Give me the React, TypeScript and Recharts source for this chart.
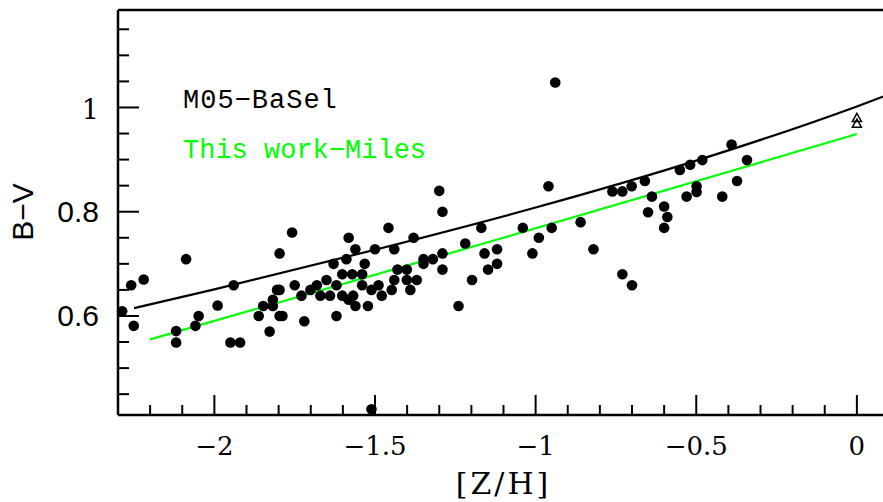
import React from "react"
import { ComposedChart, XAxis, YAxis, Scatter, Line } from "recharts"

// globular clusters: [Z/H], B-V
const clusterPoints: [number, number][] = [
  [-2.287, 0.609], [-2.259, 0.659], [-2.22, 0.67], [-2.251, 0.581], [-2.119, 0.571],
  [-2.119, 0.549], [-2.088, 0.709], [-2.059, 0.581], [-2.049, 0.6], [-1.99, 0.62],
  [-1.94, 0.659], [-1.95, 0.549], [-1.92, 0.549], [-1.862, 0.6], [-1.848, 0.619],
  [-1.828, 0.57], [-1.818, 0.631], [-1.818, 0.619], [-1.805, 0.65], [-1.797, 0.65],
  [-1.797, 0.72], [-1.797, 0.6], [-1.788, 0.6], [-1.758, 0.76], [-1.75, 0.659],
  [-1.729, 0.639], [-1.72, 0.59], [-1.701, 0.65], [-1.681, 0.659], [-1.67, 0.639],
  [-1.651, 0.669], [-1.64, 0.639], [-1.629, 0.7], [-1.62, 0.659], [-1.62, 0.6],
  [-1.602, 0.639], [-1.602, 0.68], [-1.589, 0.709], [-1.582, 0.75], [-1.582, 0.631],
  [-1.571, 0.68], [-1.568, 0.639], [-1.561, 0.728], [-1.561, 0.619], [-1.54, 0.68],
  [-1.54, 0.659], [-1.532, 0.7], [-1.522, 0.619], [-1.511, 0.65], [-1.5, 0.728],
  [-1.489, 0.659], [-1.479, 0.639], [-1.511, 0.421], [-1.458, 0.769], [-1.448, 0.65],
  [-1.44, 0.728], [-1.44, 0.669], [-1.43, 0.689], [-1.401, 0.689], [-1.401, 0.669],
  [-1.39, 0.65], [-1.38, 0.75], [-1.37, 0.669], [-1.349, 0.709], [-1.349, 0.7],
  [-1.32, 0.709], [-1.29, 0.8], [-1.29, 0.72], [-1.29, 0.689], [-1.3, 0.84],
  [-1.24, 0.619], [-1.219, 0.739], [-1.198, 0.669], [-1.169, 0.769], [-1.159, 0.72],
  [-1.148, 0.689], [-1.12, 0.728], [-1.12, 0.7], [-1.04, 0.769], [-1.01, 0.72],
  [-0.99, 0.75], [-0.95, 0.769], [-0.96, 0.849], [-0.939, 1.048], [-0.86, 0.78],
  [-0.82, 0.728], [-0.761, 0.839], [-0.73, 0.839], [-0.73, 0.68], [-0.701, 0.849],
  [-0.7, 0.659], [-0.66, 0.859], [-0.65, 0.799], [-0.638, 0.829], [-0.6, 0.81],
  [-0.59, 0.79], [-0.6, 0.769], [-0.551, 0.88], [-0.53, 0.829], [-0.519, 0.89],
  [-0.499, 0.849], [-0.499, 0.838], [-0.481, 0.899], [-0.419, 0.829], [-0.39, 0.929],
  [-0.373, 0.859], [-0.342, 0.899],
]

// open triangles at solar metallicity
const solarPoints: [number, number][] = [[0, 0.98], [0, 0.969]]

// model curves
const baselZH = [-2.25, -2.0, -1.5, -1.0, -0.5, 0, 0.1]
const baselBV = [0.615, 0.651, 0.727, 0.808, 0.898, 1.002, 1.025]
const milesZH = [-2.2, -1.1, 0]
const milesBV = [0.555, 0.75, 0.949]

const xTicks = [
  -2.3, -2.2, -2.1, -2.0, -1.9, -1.8, -1.7, -1.6, -1.5, -1.4, -1.3, -1.2,
  -1.1, -1.0, -0.9, -0.8, -0.7, -0.6, -0.5, -0.4, -0.3, -0.2, -0.1, 0,
]
const yTicks = [
  0.45, 0.5, 0.55, 0.6, 0.65, 0.7, 0.75, 0.8, 0.85, 0.9, 0.95, 1.0, 1.05, 1.1, 1.15,
]

const toXY = (pts: [number, number][]) => pts.map(([x, y]) => ({ x, y }))
const clusters = toXY(clusterPoints)
const solar = toXY(solarPoints)
const basel = baselZH.map((x, i) => ({ x, y: baselBV[i] }))
const miles = milesZH.map((x, i) => ({ x, y: milesBV[i] }))

const GREEN = "#00ff00"
const isMajor = (v: number, step: number) => Math.abs(v / step - Math.round(v / step)) < 1e-6
const fmtX = (v: number) => (Math.abs(v) < 1e-9 ? "0" : "\u2212" + String(Math.abs(v)))
const axisLine = { stroke: "#000", strokeWidth: 2.5 }

const BottomTick = (p: any) => {
  const v = p.payload.value
  const major = isMajor(v, 0.5)
  return (
    <g>
      <line x1={p.x} y1={p.y} x2={p.x} y2={p.y - (major ? 20 : 10)} stroke="#000" strokeWidth={2} />
      {major && (
        <text x={p.x} y={p.y + 40} textAnchor="middle" fontFamily="DejaVu Serif" fontSize={26} fill="#000">
          {fmtX(v)}
        </text>
      )}
    </g>
  )
}

const TopTick = (p: any) => {
  const major = isMajor(p.payload.value, 0.5)
  return <line x1={p.x} y1={p.y} x2={p.x} y2={p.y + (major ? 20 : 10)} stroke="#000" strokeWidth={2} />
}

const LeftTick = (p: any) => {
  const v = p.payload.value
  const major = isMajor(v, 0.2)
  const isOne = Math.abs(v - 1) < 1e-6
  return (
    <g>
      <line x1={p.x} y1={p.y} x2={p.x + (major ? 21 : 11)} y2={p.y} stroke="#000" strokeWidth={2} />
      {major && (
        <text
          x={p.x - 19}
          y={p.y + (isOne ? 11.5 : 10.5)}
          textAnchor="end"
          fontFamily={isOne ? "DejaVu Serif" : "Liberation Sans"}
          fontSize={isOne ? 27 : 30}
          fill="#000"
        >
          {isOne ? "1" : v.toFixed(1)}
        </text>
      )}
    </g>
  )
}

const RightTick = (p: any) => {
  const major = isMajor(p.payload.value, 0.2)
  return <line x1={p.x} y1={p.y} x2={p.x - (major ? 21 : 11)} y2={p.y} stroke="#000" strokeWidth={2} />
}

const Dot = (p: any) => <circle cx={p.cx} cy={p.cy} r={5.3} fill="#000" />
const Triangle = (p: any) => (
  <path
    d={`M${p.cx},${p.cy - 4.5} L${p.cx + 4.5},${p.cy + 3.5} L${p.cx - 4.5},${p.cy + 3.5} Z`}
    fill="none"
    stroke="#000"
    strokeWidth={1.5}
  />
)

export default function App() {
  return (
    <div style={{ position: "absolute", left: 0, top: 0, width: 883, height: 502, overflow: "hidden", background: "#fff" }}>
      <ComposedChart width={899} height={502} margin={{ top: 0, right: 0, bottom: 0, left: 0 }}>
        <XAxis
          xAxisId="b"
          type="number"
          dataKey="x"
          domain={[-2.3, 0.1]}
          ticks={xTicks}
          interval={0}
          height={87}
          tickSize={0}
          tickMargin={0}
          tickLine={false}
          axisLine={axisLine}
          tick={BottomTick}
          label={{ value: "[Z/H]", position: "insideBottom", offset: 8, fontFamily: "DejaVu Serif", fontSize: 30, letterSpacing: 3, fill: "#000" }}
        />
        <XAxis
          xAxisId="t"
          orientation="top"
          type="number"
          dataKey="x"
          domain={[-2.3, 0.1]}
          ticks={xTicks}
          interval={0}
          height={10}
          tickSize={0}
          tickMargin={0}
          tickLine={false}
          axisLine={axisLine}
          tick={TopTick}
        />
        <YAxis
          yAxisId="l"
          type="number"
          dataKey="y"
          domain={[0.41, 1.187]}
          ticks={yTicks}
          interval={0}
          width={118}
          tickSize={0}
          tickMargin={0}
          tickLine={false}
          axisLine={axisLine}
          tick={LeftTick}
          label={() => (
            <text x={33} y={212} transform="rotate(-90, 33, 212)" textAnchor="middle" fontFamily="Liberation Sans" fontSize={30} fill="#000">
              B{"\u2212"}V
            </text>
          )}
        />
        <YAxis
          yAxisId="r"
          orientation="right"
          type="number"
          domain={[0.41, 1.187]}
          ticks={yTicks}
          interval={0}
          width={10}
          tickSize={0}
          tickMargin={0}
          tickLine={false}
          axisLine={axisLine}
          tick={RightTick}
        />
        <Line xAxisId="b" yAxisId="l" data={basel} dataKey="y" type="monotone" stroke="#000" strokeWidth={2.2} dot={false} isAnimationActive={false} />
        <Line xAxisId="b" yAxisId="l" data={miles} dataKey="y" type="linear" stroke={GREEN} strokeWidth={2.2} dot={false} isAnimationActive={false} />
        <Scatter xAxisId="b" yAxisId="l" data={clusters} dataKey="y" shape={Dot} isAnimationActive={false} />
        <Scatter xAxisId="b" yAxisId="l" data={solar} dataKey="y" shape={Triangle} isAnimationActive={false} />
        <text x={183} y={108} fontFamily="Liberation Mono" fontSize={27} letterSpacing={1} fill="#000">M05{"\u2212"}BaSel</text>
        <text x={183} y={158} fontFamily="Liberation Mono" fontSize={27} fill={GREEN}>This work{"\u2212"}Miles</text>
      </ComposedChart>
    </div>
  )
}
